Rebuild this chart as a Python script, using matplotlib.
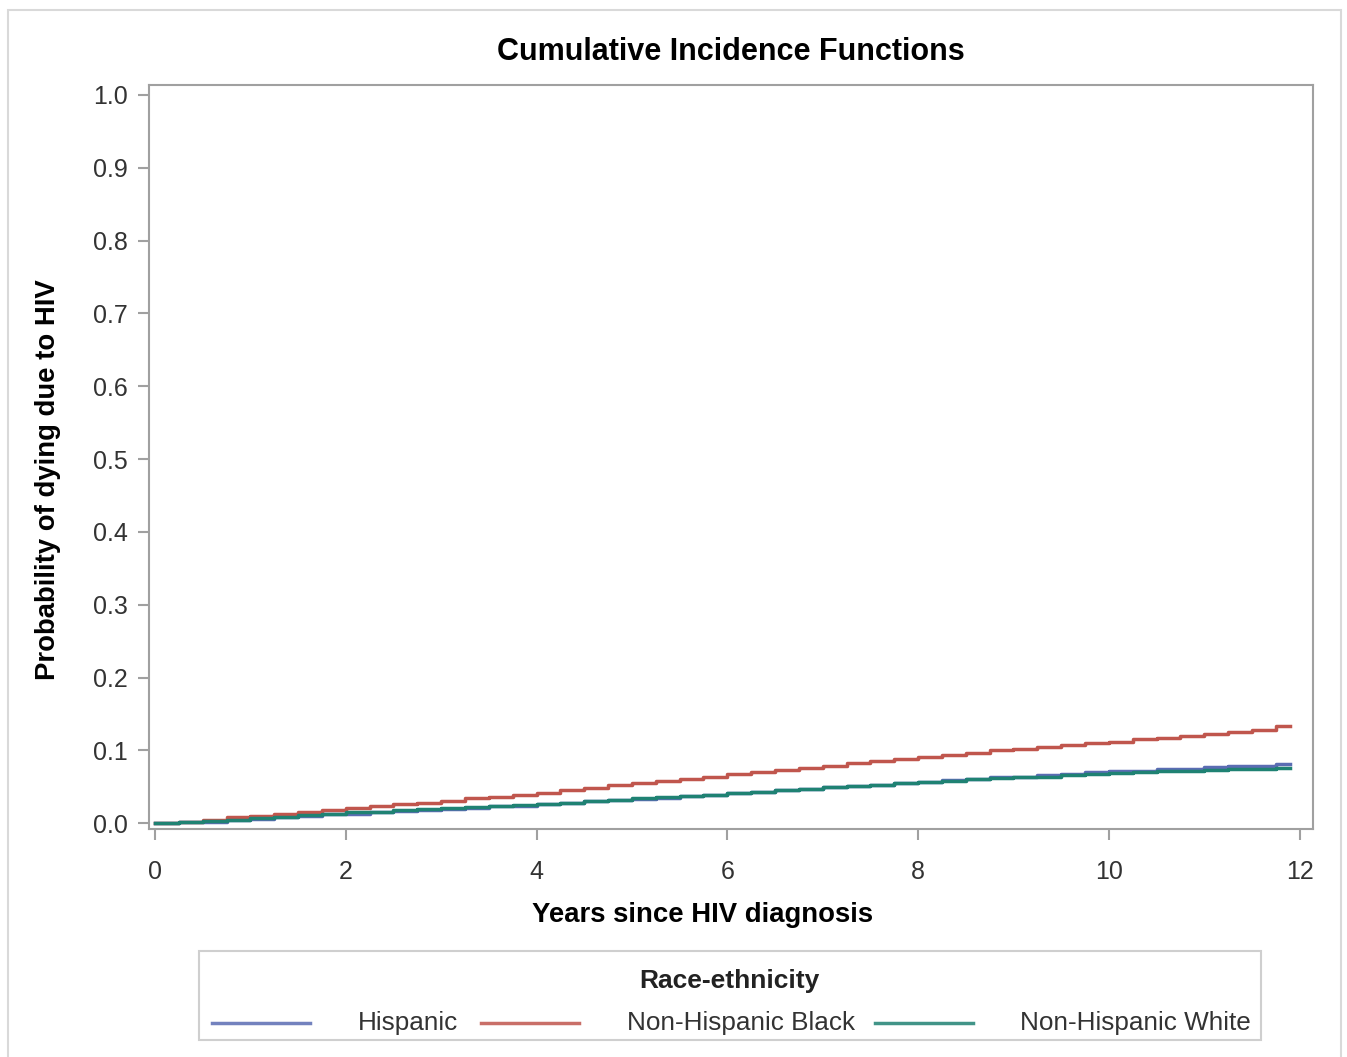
import matplotlib.pyplot as plt
import matplotlib.patches as mpatches
import numpy as np

plt.rcParams['font.family'] = ['Liberation Sans', 'DejaVu Sans']

# quarterly step times (years since diagnosis), last point is end of follow-up
years = [0.0, 0.25, 0.5, 0.75, 1.0, 1.25, 1.5, 1.75, 2.0, 2.25, 2.5, 2.75,
         3.0, 3.25, 3.5, 3.75, 4.0, 4.25, 4.5, 4.75, 5.0, 5.25, 5.5, 5.75,
         6.0, 6.25, 6.5, 6.75, 7.0, 7.25, 7.5, 7.75, 8.0, 8.25, 8.5, 8.75,
         9.0, 9.25, 9.5, 9.75, 10.0, 10.25, 10.5, 10.75, 11.0, 11.25, 11.5, 11.75, 11.9]

hispanic = [0.000, 0.001, 0.002, 0.004, 0.006, 0.008, 0.010, 0.012, 0.013, 0.015, 0.017, 0.018,
            0.020, 0.021, 0.023, 0.024, 0.026, 0.028, 0.030, 0.032, 0.033, 0.035, 0.037, 0.039,
            0.041, 0.043, 0.045, 0.047, 0.049, 0.051, 0.053, 0.055, 0.057, 0.059, 0.061, 0.063,
            0.064, 0.066, 0.068, 0.070, 0.071, 0.072, 0.074, 0.075, 0.077, 0.078, 0.079, 0.081, 0.081]

nh_black = [0.000, 0.002, 0.005, 0.008, 0.010, 0.013, 0.015, 0.018, 0.021, 0.023, 0.026, 0.028,
            0.031, 0.034, 0.036, 0.039, 0.042, 0.045, 0.048, 0.052, 0.055, 0.058, 0.061, 0.064,
            0.067, 0.070, 0.073, 0.076, 0.079, 0.082, 0.085, 0.088, 0.091, 0.094, 0.097, 0.100,
            0.102, 0.105, 0.107, 0.110, 0.112, 0.115, 0.117, 0.120, 0.122, 0.125, 0.128, 0.133, 0.133]

nh_white = [0.000, 0.001, 0.003, 0.005, 0.007, 0.009, 0.011, 0.013, 0.015, 0.016, 0.018, 0.019,
            0.021, 0.022, 0.023, 0.025, 0.026, 0.028, 0.030, 0.032, 0.034, 0.036, 0.037, 0.039,
            0.041, 0.043, 0.045, 0.047, 0.049, 0.051, 0.053, 0.055, 0.057, 0.058, 0.060, 0.062,
            0.063, 0.064, 0.066, 0.067, 0.069, 0.070, 0.071, 0.072, 0.073, 0.074, 0.075, 0.076, 0.076]

groups = ['Hispanic', 'Non-Hispanic Black', 'Non-Hispanic White']
colors = ['#5b6cb3', '#c0564d', '#1f8273']

fig = plt.figure(figsize=(13.47, 10.57), dpi=100)

# light outer frame of the original graph
fig.patches.append(mpatches.Rectangle((8/1347, -0.01), (1341-8)/1347, 1 - 10/1057 + 0.01,
                                      transform=fig.transFigure, fill=False,
                                      edgecolor='#d9d9d9', linewidth=1.5))

ax = fig.add_axes([149/1347, 1 - 829/1057, (1313-149)/1347, (829-85)/1057])

for vals, c, name in zip([hispanic, nh_black, nh_white], colors, groups):
    ax.step(years, vals, where='post', color=c, linewidth=2.5, label=name)

ax.set_xlim(-0.063, 12.14)
ax.set_ylim(-0.008, 1.0137)
ax.set_xticks(np.arange(0, 13, 2))
ax.set_yticks(np.arange(0, 1.01, 0.1))
ax.set_yticklabels([f'{v:.1f}' for v in np.arange(0, 1.01, 0.1)])

for s in ax.spines.values():
    s.set_color('#a0a0a0')
    s.set_linewidth(1.5)
ax.tick_params(direction='out', length=8, width=1.5, color='#a0a0a0',
               labelsize=18, labelcolor='#333333')
ax.tick_params(axis='x', pad=14)
ax.tick_params(axis='y', pad=7)

ax.set_title('Cumulative Incidence Functions', fontsize=22, fontweight='bold', pad=18)
ax.set_xlabel('Years since HIV diagnosis', fontsize=19.8, fontweight='bold', va='center')
ax.set_ylabel('Probability of dying due to HIV', fontsize=19.8, fontweight='bold', va='center')
ax.xaxis.set_label_coords((703-149)/1164, (829-915)/744)
ax.yaxis.set_label_coords((48-149)/1164, (829-480)/744)

# legend box below the plot
fig.patches.append(mpatches.Rectangle((199/1347, 1 - 1040/1057), (1261-199)/1347, (1040-951)/1057,
                                      transform=fig.transFigure, fill=False,
                                      edgecolor='#cfcfcf', linewidth=1.5))
fig.text(729/1347, 1 - 981/1057, 'Race-ethnicity', ha='center', va='center',
         fontsize=19, fontweight='bold', color='#222222')

line_x = [212, 481, 875]
text_x = [408, 741, 1135]
ly = 1 - 1023/1057
for lx, tx, c, name in zip(line_x, text_x, colors, groups):
    fig.lines.append(plt.Line2D([lx/1347, (lx+98)/1347], [ly, ly], transform=fig.transFigure,
                                color=c, linewidth=2.5, alpha=0.85))
    fig.text(tx/1347, ly, name, ha='center', va='center', fontsize=18.8, color='#333333')

fig.savefig('out.png', dpi=100, facecolor='white')
